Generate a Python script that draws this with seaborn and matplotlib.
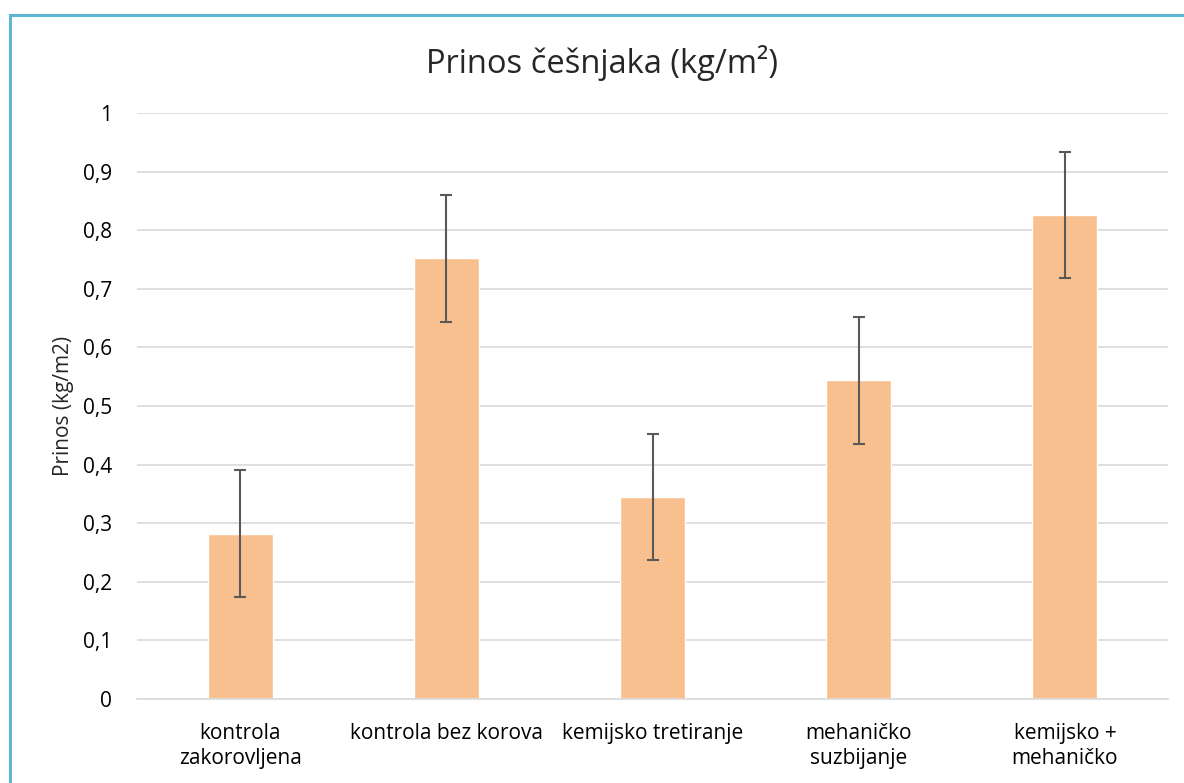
import seaborn as sns
import numpy as np
import pandas as pd
import matplotlib.pyplot as plt
from matplotlib.patches import Rectangle
from matplotlib.ticker import FuncFormatter

categories = ["kontrola\nzakorovljena", "kontrola bez korova", "kemijsko tretiranje",
              "mehaničko\nsuzbijanje", "kemijsko +\nmehaničko"]
prinos = [0.282, 0.752, 0.345, 0.544, 0.826]
greska = [0.108, 0.108, 0.108, 0.108, 0.108]
yticks = [0, 0.1, 0.2, 0.3, 0.4, 0.5, 0.6, 0.7, 0.8, 0.9, 1]

df = pd.DataFrame({"tretman": categories, "prinos": prinos, "greska": greska})

sns.set_style("white")
plt.rcParams['font.family'] = ['Open Sans', 'DejaVu Sans']

fig = plt.figure(figsize=(11.84, 7.83), dpi=100)
ax = fig.add_axes([137/1184, 1 - 699/783, (1168-137)/1184, (699-113)/783])

sns.barplot(data=df, x="tretman", y="prinos", color="#F9C08F", saturation=1,
            width=0.315, errorbar=None, ax=ax, zorder=2)
ax.errorbar(np.arange(len(prinos)), df["prinos"], yerr=df["greska"], fmt="none",
            ecolor="#595959", elinewidth=1.5, capsize=4.5, capthick=1.5, zorder=3)

ax.set_ylim(0, 1)
ax.set_xlim(-0.5, len(prinos) - 0.5)
ax.set_yticks(yticks)
ax.yaxis.set_major_formatter(FuncFormatter(lambda v, p: f"{v:g}".replace(".", ",")))
ax.grid(axis="y", color="#D9D9D9", linewidth=1.2, zorder=0)
ax.set_axisbelow(True)
for s in ["top", "right", "left"]:
    ax.spines[s].set_visible(False)
ax.spines["bottom"].set_color("#D9D9D9")
ax.spines["bottom"].set_linewidth(1.2)
ax.tick_params(axis="both", length=0, labelsize=15, colors="#000000")
ax.tick_params(axis="x", pad=17)
ax.tick_params(axis="y", pad=18)
for lbl in ax.get_xticklabels():
    lbl.set_linespacing(1.25)
ax.set_xlabel("")
ax.set_ylabel("Prinos (kg/m2)", fontsize=15, labelpad=6)

fig.text(602/1184, 1 - 63/783, "Prinos češnjaka (kg/m²)", ha="center", va="center", fontsize=23.5)

fig.patches.append(Rectangle((9.5/1184, -0.05), 1.1, 1 - 14.5/783 + 0.05, transform=fig.transFigure,
                             fill=False, edgecolor="#5BB8D2", linewidth=2.2, zorder=10))

fig.savefig("out.png", dpi=100)
